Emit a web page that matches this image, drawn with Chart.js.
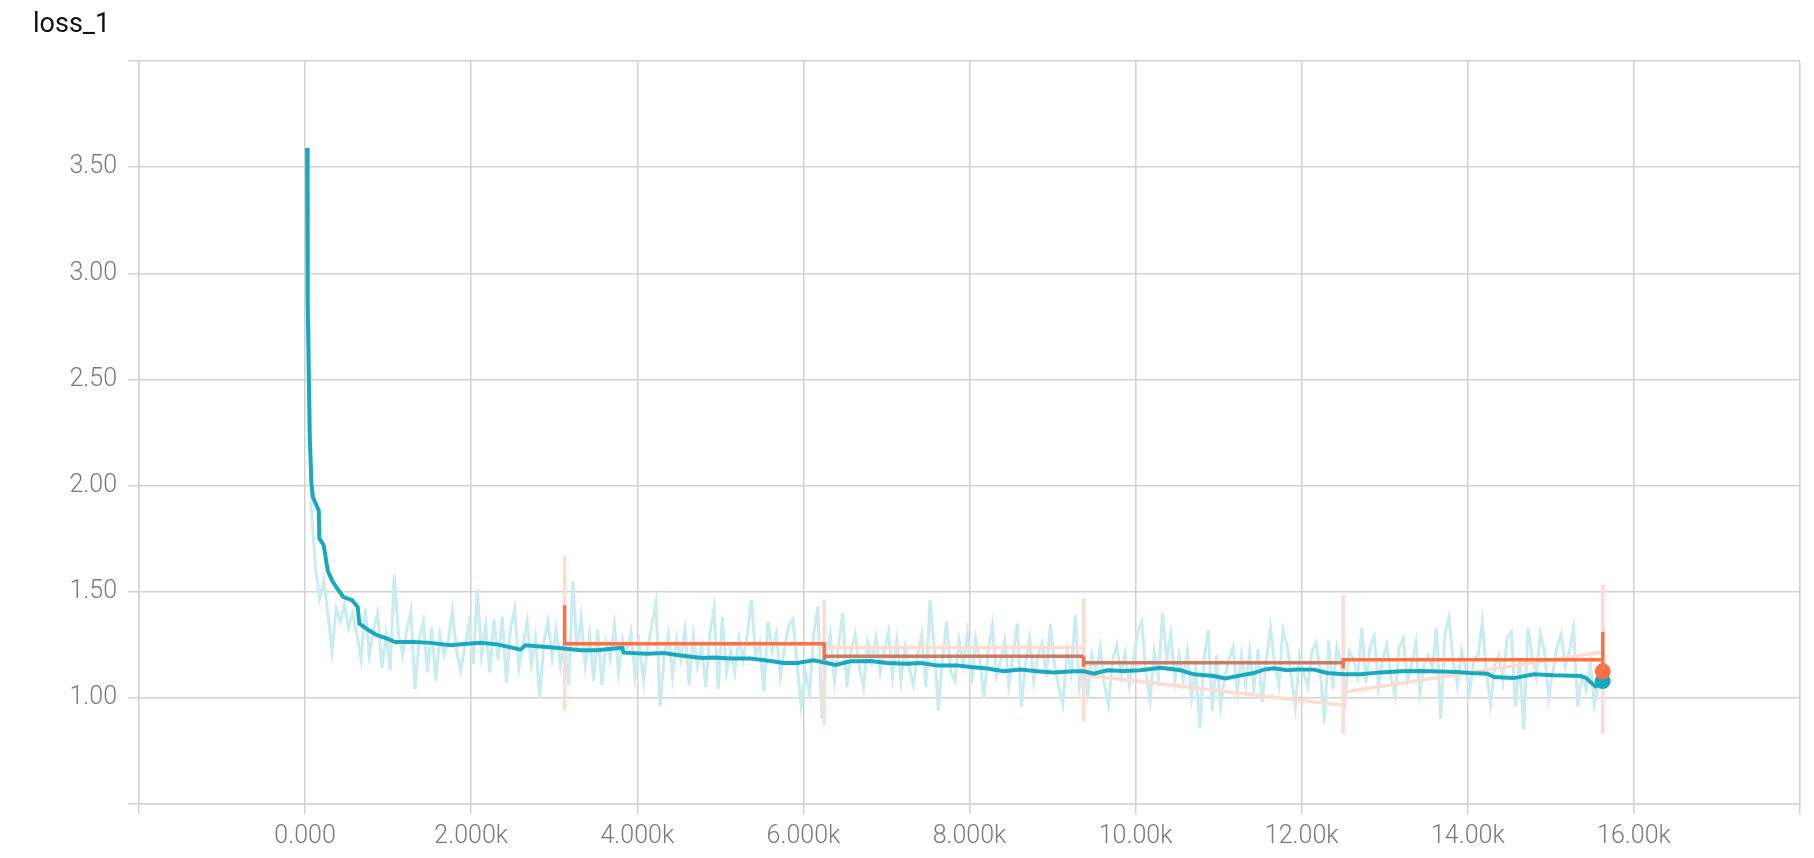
<!DOCTYPE html>
<html lang="en">
<head>
<meta charset="UTF-8">
<title>loss_1</title>
<script src="https://cdn.jsdelivr.net/npm/chart.js"></script>
<style>
    html, body {
        margin: 0;
        padding: 0;
        background: #fff;
    }
    .wrap {
        position: relative;
        width: 1814px;
        height: 858px;
    }
    .title {
        position: absolute;
        left: 33px;
        top: 10px;
        font-family: Roboto, "Helvetica Neue", Arial, sans-serif;
        font-size: 27px;
        line-height: 27px;
        color: #111;
    }
</style>
</head>
<body>

<div class="wrap">
    <div class="title">loss_1</div>
    <canvas id="lossChart"></canvas>
</div>

<script>
    // axis ticks
    const xTicks = [-2000, 0, 2000, 4000, 6000, 8000, 10000, 12000, 14000, 16000, 18000];
    const yTicks = [0.5, 1.0, 1.5, 2.0, 2.5, 3.0, 3.5, 4.0];

    // raw loss of run 1, logged every 50 steps from step 24 (rows of 10 = 500 steps)
    const rawFirstStep = 24;
    const rawEvery = 50;
    const rawLoss = [
        3.59, 1.90, 1.62, 1.47, 1.55, 1.40, 1.22, 1.42, 1.36, 1.44,
        1.33, 1.40, 1.30, 1.18, 1.42, 1.20, 1.32, 1.40, 1.14, 1.30,
        1.13, 1.58, 1.30, 1.20, 1.32, 1.41, 1.04, 1.28, 1.36, 1.12,
        1.33, 1.08, 1.30, 1.20, 1.27, 1.41, 1.22, 1.13, 1.24, 1.35,
        1.16, 1.51, 1.20, 1.34, 1.12, 1.37, 1.18, 1.38, 1.07, 1.33,
        1.42, 1.14, 1.25, 1.36, 1.16, 1.28, 1.00, 1.26, 1.36, 1.19,
        1.32, 1.15, 1.28, 1.06, 1.55, 1.22, 1.38, 1.15, 1.30, 1.08,
        1.32, 1.06, 1.26, 1.18, 1.34, 1.12, 1.28, 1.22, 1.31, 1.10,
        1.25, 1.08, 1.24, 1.34, 1.45, 0.96, 1.20, 1.30, 1.10, 1.28,
        1.18, 1.32, 1.06, 1.29, 1.15, 1.25, 1.05, 1.30, 1.42, 1.04,
        1.38, 1.12, 1.22, 1.12, 1.28, 1.18, 1.30, 1.46, 1.20, 1.26,
        1.03, 1.36, 1.22, 1.30, 1.10, 1.24, 1.34, 1.37, 1.16, 0.96,
        1.12, 1.02, 1.30, 1.43, 0.90, 1.20, 1.30, 1.08, 1.25, 1.40,
        1.05, 1.22, 1.30, 1.14, 1.05, 1.26, 1.17, 1.28, 1.12, 1.22,
        1.31, 1.10, 1.27, 1.08, 1.24, 1.14, 1.06, 1.20, 1.30, 1.05,
        1.46, 1.25, 0.94, 1.18, 1.36, 1.12, 1.08, 1.27, 1.15, 1.30,
        1.07, 1.28, 1.18, 1.00, 1.22, 1.34, 1.10, 1.17, 1.27, 1.06,
        1.20, 1.35, 0.96, 1.16, 1.28, 1.08, 1.20, 1.26, 1.10, 1.35,
        1.15, 1.05, 0.97, 1.22, 1.12, 1.39, 1.05, 1.18, 1.02, 1.20,
        1.12, 1.24, 1.06, 0.97, 1.18, 1.25, 1.10, 1.21, 1.06, 1.18,
        1.31, 1.36, 1.12, 0.99, 1.22, 1.10, 1.40, 1.18, 1.30, 1.08,
        1.20, 1.08, 1.22, 1.00, 1.14, 0.86, 1.18, 1.32, 0.94, 1.20,
        0.96, 1.10, 1.18, 1.24, 1.03, 1.20, 1.06, 1.22, 1.04, 1.23,
        0.98, 1.18, 1.33, 1.16, 1.06, 1.32, 1.25, 1.10, 0.96, 1.20,
        1.12, 1.05, 1.22, 1.26, 1.12, 0.88, 1.27, 1.04, 1.24, 1.16,
        1.00, 1.22, 1.18, 1.10, 1.33, 1.07, 1.24, 1.29, 1.05, 1.18,
        1.25, 1.10, 1.01, 1.24, 1.28, 1.08, 1.16, 1.26, 1.02, 1.16,
        1.20, 1.14, 1.33, 0.90, 1.30, 1.38, 1.17, 1.06, 1.22, 1.14,
        1.03, 1.18, 1.20, 1.36, 1.12, 0.97, 1.15, 1.20, 1.08, 1.28,
        1.31, 0.96, 1.18, 0.85, 1.33, 1.20, 1.10, 1.30, 1.22, 1.00,
        1.12, 1.24, 1.30, 1.15, 1.22, 1.33, 0.96, 1.10, 1.04, 1.16,
        0.97, 1.06, 1.08
    ];

    // smoothed loss of run 1
    const smoothSteps = [
        24, 31, 55, 76, 94, 164, 172, 224, 272, 325, 377, 461, 566, 633, 654, 766, 867, 988, 1087,
        1308, 1509, 1750, 1951, 2112, 2312, 2512, 2593, 2653, 2914, 3114, 3315, 3517, 3716, 3818,
        3837, 4119, 4319, 4520, 4781, 4921, 5122, 5363, 5603, 5764, 5925, 6125, 6226, 6386, 6567,
        6808, 7009, 7250, 7410, 7611, 7852, 8012, 8213, 8413, 8614, 8815, 9015, 9256, 9377, 9497,
        9658, 9858, 10059, 10300, 10541, 10701, 10942, 11083, 11264, 11424, 11544, 11665, 11826,
        11946, 12147, 12308, 12508, 12709, 12950, 13191, 13432, 13672, 13873, 14033, 14234, 14314,
        14555, 14796, 15037, 15358, 15418, 15539, 15624
    ];
    const smoothLoss = [
        3.59, 2.87, 2.245, 2.01, 1.946, 1.883, 1.75, 1.72, 1.60, 1.553, 1.52, 1.475, 1.46, 1.428, 1.35, 1.318, 1.295, 1.279, 1.263,
        1.263, 1.259, 1.248, 1.255, 1.26, 1.252, 1.235, 1.227, 1.248, 1.24, 1.232, 1.224, 1.224, 1.232, 1.235,
        1.213, 1.208, 1.211, 1.20, 1.188, 1.19, 1.185, 1.185, 1.174, 1.164, 1.164, 1.177, 1.169, 1.155, 1.172,
        1.174, 1.164, 1.161, 1.164, 1.153, 1.153, 1.145, 1.138, 1.125, 1.133, 1.125, 1.119, 1.125, 1.125, 1.114,
        1.13, 1.126, 1.13, 1.142, 1.13, 1.111, 1.103, 1.091, 1.106, 1.117, 1.133, 1.139, 1.13,
        1.134, 1.133, 1.117, 1.111, 1.111, 1.12, 1.125, 1.126, 1.124, 1.122, 1.117, 1.114, 1.098,
        1.093, 1.111, 1.106, 1.103, 1.095, 1.054, 1.079
    ];

    // run 2: logged once per epoch (3125 steps), many values per step
    const epochRawSteps = [
        3125, 3125, 3125, 3125, 3125, 3125,
        6250, 6250, 6250, 6250, 6250,
        9375, 9375, 9375, 9375, 9375,
        12500, 12500, 12500, 12500,
        15625, 15625, 15625, 15625
    ];
    const epochRawLoss = [
        1.436, 0.94, 1.667, 1.02, 1.40, 1.255,
        1.255, 0.871, 1.463, 0.95, 1.237,
        1.237, 1.47, 0.887, 1.30, 1.108,
        0.965, 0.832, 1.486, 1.027,
        1.216, 0.832, 1.533, 1.125
    ];
    const epochSmoothSteps = [3125, 3125, 6250, 6250, 6250, 9375, 9375, 9375, 12500, 12500, 12500, 15625, 15625, 15625];
    const epochSmoothLoss = [1.436, 1.255, 1.255, 1.177, 1.196, 1.196, 1.146, 1.165, 1.165, 1.138, 1.18, 1.18, 1.31, 1.125];

    const rawPoints = rawLoss.map((v, i) => ({ x: rawFirstStep + i * rawEvery, y: v }));
    const smoothPoints = smoothLoss.map((v, i) => ({ x: smoothSteps[i], y: v }));
    const epochRawPoints = epochRawLoss.map((v, i) => ({ x: epochRawSteps[i], y: v }));
    const epochSmoothPoints = epochSmoothLoss.map((v, i) => ({ x: epochSmoothSteps[i], y: v }));

    const gridColor = '#d2d2d2';
    const tickFont = { family: 'Roboto', size: 25, weight: 300 };

    function lastDot(points) {
        return ctx => ctx.dataIndex === points.length - 1 ? 8 : 0;
    }

    function xLabel(v) {
        if (v === xTicks[0] || v === xTicks[xTicks.length - 1]) return '';
        if (v === 0) return '0.000';
        return (v / 1000).toPrecision(4) + 'k';
    }

    function yLabel(v) {
        if (v === yTicks[0] || v === yTicks[yTicks.length - 1]) return '';
        return v.toFixed(2);
    }

    new Chart(document.getElementById('lossChart'), {
        type: 'line',
        data: {
            datasets: [
                {
                    data: epochSmoothPoints,
                    borderColor: '#ff7043',
                    backgroundColor: '#ff7043',
                    borderWidth: 3.5,
                    pointRadius: lastDot(epochSmoothPoints),
                    pointBorderWidth: 0,
                    segment: {
                        // the middle epochs read darker in the picture
                        borderColor: ctx => (ctx.p0.parsed.x >= 6250 && ctx.p1.parsed.x <= 12500 && ctx.p0.parsed.x !== ctx.p1.parsed.x) ? '#cd7a63' : '#ff7043'
                    },
                    order: 0
                },
                {
                    data: smoothPoints,
                    borderColor: '#19a9bf',
                    backgroundColor: '#19a9bf',
                    borderWidth: 4,
                    pointRadius: lastDot(smoothPoints),
                    pointBorderWidth: 0,
                    order: 1
                },
                {
                    data: epochRawPoints,
                    borderColor: '#ffdcd2',
                    borderWidth: 3.5,
                    pointRadius: 0,
                    order: 2
                },
                {
                    data: rawPoints,
                    borderColor: '#c9ecf1',
                    borderWidth: 3,
                    pointRadius: 0,
                    order: 3
                }
            ]
        },
        options: {
            responsive: true,
            maintainAspectRatio: false,
            animation: false,
            layout: { padding: { top: 61, right: 14, bottom: 0, left: 0 } },
            elements: { line: { tension: 0 } },
            plugins: {
                legend: { display: false },
                tooltip: { enabled: false }
            },
            scales: {
                x: {
                    type: 'linear',
                    min: xTicks[0],
                    max: xTicks[xTicks.length - 1],
                    afterBuildTicks: scale => { scale.ticks = xTicks.map(v => ({ value: v })); },
                    afterFit: scale => { scale.height = 54; },
                    grid: { color: gridColor, lineWidth: 1.5, tickLength: 10 },
                    border: { color: gridColor, width: 1.5 },
                    ticks: {
                        callback: xLabel,
                        font: tickFont,
                        color: '#7a7a7a',
                        padding: 8,
                        maxRotation: 0,
                        autoSkip: false
                    }
                },
                y: {
                    min: yTicks[0],
                    max: yTicks[yTicks.length - 1],
                    afterBuildTicks: scale => { scale.ticks = yTicks.map(v => ({ value: v })); },
                    afterFit: scale => { scale.width = 139; },
                    grid: { color: gridColor, lineWidth: 1.5, tickLength: 11 },
                    border: { color: gridColor, width: 1.5 },
                    ticks: {
                        callback: yLabel,
                        font: tickFont,
                        color: '#7a7a7a',
                        padding: 11
                    }
                }
            }
        }
    });
</script>

</body>
</html>
